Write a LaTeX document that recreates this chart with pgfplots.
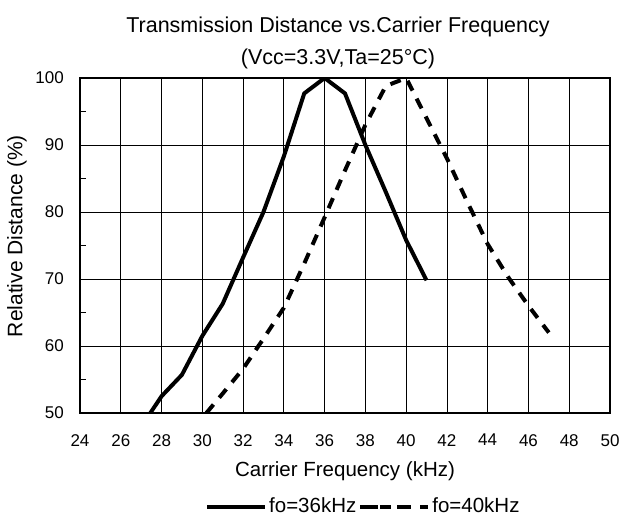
\documentclass[border=0pt]{standalone}
\usepackage{pgfplots}
\pgfplotsset{compat=1.18}
\usepackage{fontspec}
\setmainfont{Liberation Sans}
\begin{document}
\begin{tikzpicture}[x=1pt,y=1pt]
\fontsize{21}{25}\selectfont
\begin{axis}[
  at={(80pt,103pt)}, anchor=south west, scale only axis,
  width=530pt, height=335pt,
  xmin=24, xmax=50, ymin=50, ymax=100,
  xtick={24,26,...,50}, ytick={50,60,...,100},
  minor ytick={55,65,...,95},
  grid=major, major grid style={black, line width=0.8pt},
  axis line style={black, line width=1.4pt},
  tick style={black, line width=0.8pt},
  major tick length=0pt, minor tick length=6pt,
  tick align=inside,
  xtick pos=bottom, ytick pos=left,
  /pgf/number format/assume math mode=true,
  ticklabel style={font=\fontsize{17}{20}\selectfont},
  xticklabel style={yshift=-14pt},
  yticklabel style={xshift=-9pt},
  xlabel={Carrier Frequency (kHz)},
  ylabel={Relative Distance (\%)},
  every axis x label/.style={at={([yshift=-58pt]axis description cs:0.5,0)}, anchor=center, font=\fontsize{20.5}{24}\selectfont},
  every axis y label/.style={at={([xshift=-63pt]axis description cs:0,0.528)}, anchor=center, rotate=90, font=\fontsize{21}{25}\selectfont},
  legend columns=2,
  legend style={draw=none, fill=none, at={(0.2358,-0.28)}, anchor=west,
    font=\fontsize{20.5}{24}\selectfont, inner sep=0pt,
    nodes={inner xsep=2pt, inner ysep=0pt},
    /tikz/every even column/.append style={column sep=0pt}},
]
\addplot[black, line width=4pt,
  legend image code/.code={\draw[black, line width=4pt] (0pt,0pt) -- (58pt,0pt);}]
  coordinates {(27.45,50) (28,52.5) (29,55.7) (30,61.5) (31,66.3) (32,73.2) (33,80) (34,88.3) (35,97.7) (36,100) (37,97.7) (38,90) (39,83) (40,75.8) (41,69.8)};
\addlegendentry{fo=36kHz}
\addplot[black, line width=4pt, dash pattern=on 11pt off 9pt,
  legend image code/.code={\path (0pt,0pt) -- (68pt,0pt);
    \draw[black, line width=4pt, solid] (6pt,0pt) -- (18pt,0pt);
    \draw[black, line width=4pt, solid] (37pt,0pt) -- (50pt,0pt);}]
  coordinates {(30.2,50) (31,52.9) (32,56.6) (33,61.1) (34,65.7) (35,72.3) (36,79.2) (37,86.2) (38,93) (39,98.8) (40,100) (41,94) (42,88) (43,81.5) (44,75.2) (45,70.3) (46,66) (47,62)};
\addlegendentry{fo=40kHz}
\end{axis}
\node[anchor=center, font=\fontsize{21.5}{25}\selectfont] at (338pt,489pt) {Transmission Distance vs.Carrier Frequency};
\node[anchor=center, font=\fontsize{21.5}{25}\selectfont] at (338pt,457pt) {(Vcc=3.3V,Ta=25°C)};
\pgfresetboundingbox
\path[use as bounding box] (0,0) rectangle (621pt,516pt);
\end{tikzpicture}
\end{document}
